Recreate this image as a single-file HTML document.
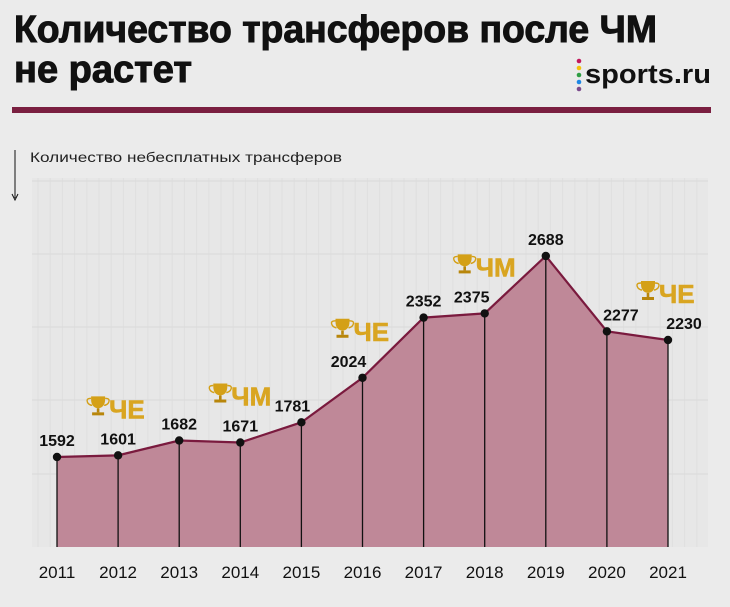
<!DOCTYPE html>
<html><head><meta charset="utf-8"><style>
html,body{margin:0;padding:0;background:#ebebeb;}
svg{display:block;font-family:"Liberation Sans","DejaVu Sans",sans-serif;}
</style></head><body>
<svg id="c" width="730" height="607" viewBox="0 0 730 607">
<rect width="730" height="607" fill="#ebebeb"/>
<text x="14" y="42" font-size="38" font-weight="bold" fill="#111" stroke="#111" stroke-width="1" textLength="643" lengthAdjust="spacingAndGlyphs">Количество трансферов после ЧМ</text>
<text x="14" y="82" font-size="38" font-weight="bold" fill="#111" stroke="#111" stroke-width="1" textLength="178" lengthAdjust="spacingAndGlyphs">не растет</text>
<g>
<circle cx="579" cy="61" r="2.3" fill="#c2185b"/><circle cx="579" cy="68" r="2.3" fill="#f4c20d"/><circle cx="579" cy="75" r="2.3" fill="#2e9e44"/><circle cx="579" cy="82" r="2.3" fill="#1e88e5"/><circle cx="579" cy="89" r="2.3" fill="#7b4a8c"/>
<text x="585" y="83" font-size="27" font-weight="bold" fill="#111" textLength="126" lengthAdjust="spacingAndGlyphs">sports.ru</text>
</g>
<rect x="12" y="107" width="699" height="6" fill="#7a1f40"/>
<line x1="15" y1="150" x2="15" y2="198" stroke="#111" stroke-width="1"/>
<path d="M12 194 L15 200 L18 194" fill="none" stroke="#111" stroke-width="1"/>
<text x="30" y="162" font-size="14" fill="#222" textLength="312" lengthAdjust="spacingAndGlyphs">Количество небесплатных трансферов</text>
<g id="grid"></g>
<g id="plot"></g>
</svg>
<script>
const years = ['2011','2012','2013','2014','2015','2016','2017','2018','2019','2020','2021'];
const values = [1592,1601,1682,1671,1781,2024,2352,2375,2688,2277,2230];
const labelDx = [0,0,0,0,-9,-14,0,-13,0,14,16];
const awardYears = ['2012','2014','2016','2018','2021'];
const awardNames = ['ЧЕ','ЧМ','ЧЕ','ЧМ','ЧЕ'];
const awardBase = [1601,1671,2024,2375,2230];

const NS='http://www.w3.org/2000/svg';
const grid=document.getElementById('grid'), plot=document.getElementById('plot');
const x0=57, step=61.1, yBase=547;
const xs=i=>x0+i*step;
const ys=v=>457-(v-1592)*0.1834;
function mk(t,a,p){const e=document.createElementNS(NS,t);for(const k in a)e.setAttribute(k,a[k]);(p||plot).appendChild(e);return e;}

const gbg=mk('rect',{x:32,y:178,width:676,height:369,fill:'#e7e7e7'},grid);


for(let gx=38;gx<708;gx+=12.2){const l=mk('line',{x1:gx,y1:178,x2:gx,y2:547,stroke:'#dfdfdf','stroke-width':1},grid);

}
[181,254,327,400,474].forEach(gy=>{const l=mk('line',{x1:32,y1:gy,x2:708,y2:gy,stroke:'#dcdcdc','stroke-width':1.2},grid);

});

let d='M'+xs(0)+' '+yBase;
values.forEach((v,i)=>d+=' L'+xs(i)+' '+ys(v));
d+=' L'+xs(values.length-1)+' '+yBase+' Z';
const area=mk('path',{d:d,fill:'#bf8898'});


const line=mk('polyline',{points:values.map((v,i)=>xs(i)+','+ys(v)).join(' '),fill:'none',stroke:'#7a1a3e','stroke-width':2.2});



values.forEach((v,i)=>{
  const dl=mk('line',{x1:xs(i),y1:ys(v),x2:xs(i),y2:yBase,stroke:'#111','stroke-width':1.3});
  
  
  const pt=mk('circle',{cx:xs(i),cy:ys(v),r:4.2,fill:'#111'});
  
  
  const lb=mk('text',{x:xs(i)+labelDx[i],y:ys(v)-11,'font-size':16,'font-weight':'bold','text-anchor':'middle',fill:'#111'});
  lb.textContent=String(v);
  
  
  const xl=mk('text',{x:xs(i),y:578,'font-size':17,'text-anchor':'middle',fill:'#111'});
  xl.textContent=years[i];
  
  
});

awardYears.forEach((yr,k)=>{
  const i=years.indexOf(yr);
  const bx=xs(i), by=ys(awardBase[k])-37;
  const g=mk('g',{});
  
  
  const tx=bx-20, ty=by-12;
  mk('path',{d:`M${tx-7} ${ty-10} h14 v3 q0 8 -7 9 q-7 -1 -7 -9 z`,fill:'#d4a017'},g);
  mk('path',{d:`M${tx-7} ${ty-8} q-6 0 -3 5 q2 2 4 2 M${tx+7} ${ty-8} q6 0 3 5 q-2 2 -4 2`,fill:'none',stroke:'#d4a017','stroke-width':1.4},g);
  mk('rect',{x:tx-1.3,y:ty+2,width:2.6,height:4,fill:'#b8860b'},g);
  mk('rect',{x:tx-6,y:ty+6,width:12,height:3,fill:'#b8860b'},g);
  const t=mk('text',{x:bx-9,y:by,'font-size':26,'font-weight':'bold',fill:'#d9a521',stroke:'#d9a521','stroke-width':0.6},g);
  t.textContent=awardNames[k];
});
</script>
</body></html>
